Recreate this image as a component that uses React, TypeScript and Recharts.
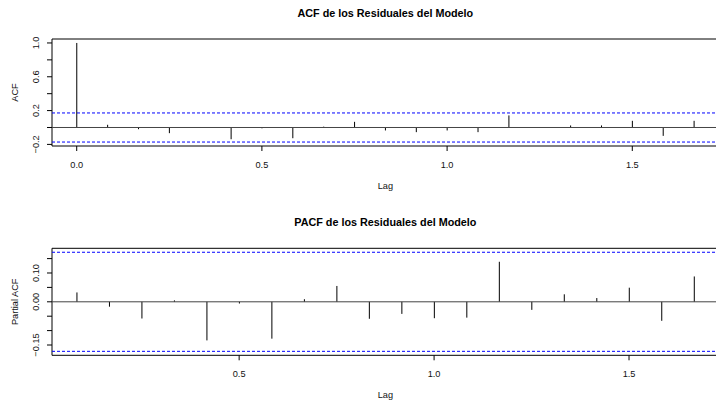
import React from 'react';
import { ComposedChart, Bar, XAxis, YAxis, ReferenceLine, ReferenceArea } from 'recharts';

const FONT = '"Liberation Sans", Arial, Helvetica, sans-serif';

// lags in years (monthly series, frequency 12)
const acfLags = [0, 0.0833, 0.1667, 0.25, 0.3333, 0.4167, 0.5, 0.5833, 0.6667, 0.75, 0.8333,
  0.9167, 1.0, 1.0833, 1.1667, 1.25, 1.3333, 1.4167, 1.5, 1.5833, 1.6667];
const acfValues = [1.0, 0.032, -0.02, -0.067, -0.005, -0.139, -0.01, -0.127, 0.01, 0.067, -0.035,
  -0.055, -0.035, -0.055, 0.143, -0.005, 0.024, 0.024, 0.079, -0.099, 0.079];

const pacfLags = [0.0833, 0.1667, 0.25, 0.3333, 0.4167, 0.5, 0.5833, 0.6667, 0.75, 0.8333,
  0.9167, 1.0, 1.0833, 1.1667, 1.25, 1.3333, 1.4167, 1.5, 1.5833, 1.6667];
const pacfValues = [0.0325, -0.017, -0.058, 0.005, -0.134, -0.006, -0.128, 0.009, 0.055, -0.059,
  -0.042, -0.057, -0.055, 0.139, -0.028, 0.026, 0.013, 0.049, -0.066, 0.088];

const confLimit = 0.172;

const acfXTicks = [0, 0.5, 1.0, 1.5];
const acfYTicks = [-0.2, 0, 0.2, 0.4, 0.6, 0.8, 1.0];
const acfYLabelled = [-0.2, 0.2, 0.6, 1.0];

const pacfXTicks = [0.5, 1.0, 1.5];
const pacfYTicks = [-0.15, -0.1, -0.05, 0, 0.05, 0.1, 0.15];
const pacfYLabelled = [-0.15, 0, 0.1];

const CHART_W = 730;
const PLOT_LEFT = 52;
const PLOT_W = 666.7;
const PLOT_H = 107;

const fmt = (v: number, digits: number) => v.toFixed(digits).replace('-', '\u2212');

const Stick = (props: any) => {
  const { x, y, width, height } = props;
  if (x == null || y == null) return null;
  const cx = x + width / 2;
  return <line x1={cx} x2={cx} y1={y} y2={y + height} stroke="#000" strokeWidth={1} />;
};

interface PanelProps {
  lags: number[];
  values: number[];
  title: string;
  yTitle: string;
  xDomain: [number, number];
  yDomain: [number, number];
  xTicks: number[];
  yTicks: number[];
  yLabelled: number[];
  yDigits: number;
  height: number;
  marginTop: number;
  titleTop: number;
}

function Panel(p: PanelProps) {
  const data = p.lags.map((lag, i) => ({ lag, value: p.values[i] }));

  const yTick = (t: any) => {
    const v = t.payload.value;
    if (!p.yLabelled.some((s) => Math.abs(s - v) < 1e-9)) return <g />;
    return (
      <text transform={`translate(${t.x - 6},${t.y}) rotate(-90)`} textAnchor="middle"
        fontSize={9.2} fontFamily={FONT} fill="#111">
        {fmt(v, p.yDigits)}
      </text>
    );
  };

  const xTick = (t: any) => (
    <text x={t.x} y={t.y} dy="0.71em" textAnchor="middle" fontSize={9.2} fontFamily={FONT} fill="#111">
      {t.payload.value.toFixed(1)}
    </text>
  );

  const xLabel = (lp: any) => {
    const vb = lp.viewBox;
    return (
      <text x={vb.x + vb.width / 2} y={vb.y + 43} textAnchor="middle" fontSize={9.2} fontFamily={FONT} fill="#111">
        Lag
      </text>
    );
  };

  const yLabel = (lp: any) => {
    const vb = lp.viewBox;
    const cy = vb.y + vb.height / 2;
    return (
      <text transform={`translate(17.5,${cy}) rotate(-90)`} textAnchor="middle" fontSize={9.2}
        fontFamily={FONT} fill="#111">
        {p.yTitle}
      </text>
    );
  };

  return (
    <div style={{ position: 'relative', width: CHART_W, height: p.height }}>
      <div style={{
        position: 'absolute', left: 0, width: 2 * (PLOT_LEFT + PLOT_W / 2), top: p.titleTop,
        textAlign: 'center', fontFamily: FONT, fontWeight: 'bold', fontSize: 10.8, lineHeight: '13px', color: '#000',
      }}>
        {p.title}
      </div>
      <ComposedChart width={CHART_W} height={p.height} data={data}
        margin={{ top: p.marginTop, right: CHART_W - PLOT_LEFT - PLOT_W, left: 0, bottom: 0 }}>
        <XAxis dataKey="lag" type="number" domain={p.xDomain} allowDataOverflow ticks={p.xTicks}
          axisLine={false} tickLine={{ stroke: '#000' }} tickSize={5} tickMargin={10}
          height={p.height - p.marginTop - PLOT_H} tick={xTick} label={xLabel} interval={0} />
        <YAxis type="number" domain={p.yDomain} allowDataOverflow ticks={p.yTicks} width={PLOT_LEFT}
          axisLine={false} tickLine={{ stroke: '#000' }} tickSize={5} tick={yTick} label={yLabel} interval={0} />
        <ReferenceLine y={0} stroke="#444" strokeWidth={1} />
        <ReferenceLine y={confLimit} stroke="#0000ff" strokeDasharray="3 2" />
        <ReferenceLine y={-confLimit} stroke="#0000ff" strokeDasharray="3 2" />
        <Bar dataKey="value" barSize={1} shape={<Stick />} isAnimationActive={false} />
        <ReferenceArea x1={p.xDomain[0]} x2={p.xDomain[1]} y1={p.yDomain[0]} y2={p.yDomain[1]}
          fill="none" stroke="#000" strokeWidth={1} ifOverflow="visible" />
      </ComposedChart>
    </div>
  );
}

export default function App() {
  const acfRange = 1.0 + confLimit;
  const acfPad = acfRange * 0.04;
  const pacfPad = 2 * confLimit * 0.04;
  return (
    <div style={{ position: 'absolute', left: 0, top: 0, width: 716, height: 401, overflow: 'hidden', background: '#fff' }}>
      <Panel lags={acfLags} values={acfValues} title="ACF de los Residuales del Modelo" yTitle="ACF"
        xDomain={[-0.0667, 1.7333]} yDomain={[-confLimit - acfPad, 1.0 + acfPad]}
        xTicks={acfXTicks} yTicks={acfYTicks} yLabelled={acfYLabelled} yDigits={1}
        height={200} marginTop={39} titleTop={6.5} />
      <Panel lags={pacfLags} values={pacfValues} title="PACF de los Residuales del Modelo" yTitle="Partial ACF"
        xDomain={[0.02, 1.73]} yDomain={[-confLimit - pacfPad, confLimit + pacfPad]}
        xTicks={pacfXTicks} yTicks={pacfYTicks} yLabelled={pacfYLabelled} yDigits={2}
        height={201} marginTop={48.3} titleTop={16.2} />
    </div>
  );
}
